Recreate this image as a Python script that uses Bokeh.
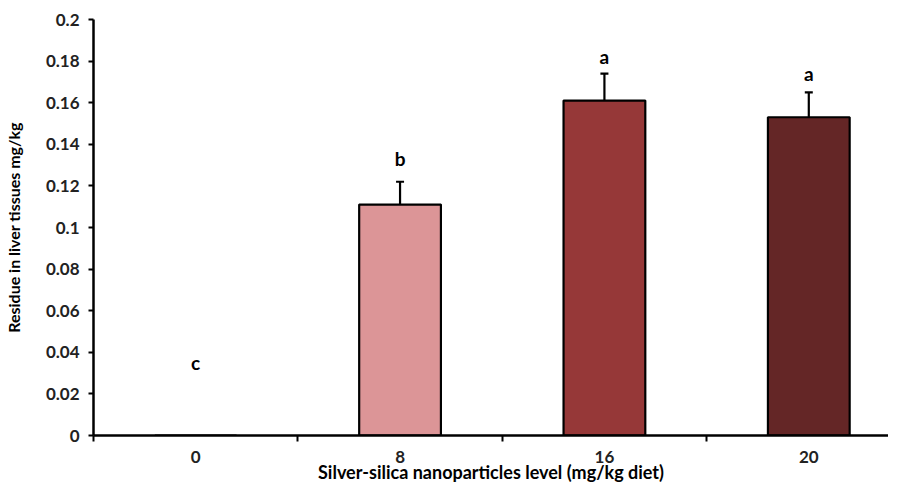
from bokeh.plotting import figure
from bokeh.models import ColumnDataSource, FixedTicker, Whisker, TeeHead, Range1d
from bokeh.core.properties import value
from bokeh.embed import file_html
from bokeh.resources import INLINE

# Data
categories = ["0", "8", "16", "20"]
residue = [0.0, 0.111, 0.161, 0.153]
errors = [0.0, 0.011, 0.013, 0.012]
letters = ["c", "b", "a", "a"]
letter_y = [0.035, 0.133, 0.182, 0.174]
colors = ["#DC9597", "#DC9597", "#963838", "#642626"]
y_ticks = [0, 0.02, 0.04, 0.06, 0.08, 0.1, 0.12, 0.14, 0.16, 0.18, 0.2]

xs = list(range(len(categories)))
FONT = "Lato"

p = figure(width=888, height=485, output_backend="svg", toolbar_location=None,
           x_range=Range1d(-0.5, 3.39), y_range=Range1d(0, 0.2),
           min_border_left=90, min_border_right=0, min_border_top=19, min_border_bottom=40)
p.outline_line_color = None
p.xgrid.visible = False
p.ygrid.visible = False
p.background_fill_color = "white"

bar_src = ColumnDataSource(dict(x=xs, top=residue, color=colors))
p.vbar(x="x", top="top", width=0.4, source=bar_src, fill_color="color",
       line_color="black", line_width=2.2)

wx = [x for x, e in zip(xs, errors) if e > 0]
wlo = [v for v, e in zip(residue, errors) if e > 0]
whi = [v + e for v, e in zip(residue, errors) if e > 0]
w_src = ColumnDataSource(dict(x=wx, lower=wlo, upper=whi))
wh = Whisker(base="x", lower="lower", upper="upper", source=w_src,
             line_color="black", line_width=2.2, lower_head=None,
             upper_head=TeeHead(size=8, line_color="black", line_width=2.2))
p.add_layout(wh)

txt_src = ColumnDataSource(dict(x=xs, y=letter_y, t=letters))
p.text(x="x", y="y", text="t", source=txt_src, text_align="center",
       text_baseline="middle", text_font=value(FONT), text_font_style="bold",
       text_font_size="19px", text_color="black")

# X axis
xa = p.xaxis[0]
xa.ticker = FixedTicker(ticks=xs, minor_ticks=[-0.5, 0.5, 1.5, 2.5])
xa.major_label_overrides = {i: c for i, c in enumerate(categories)}
xa.major_tick_out = 0
xa.major_tick_in = 0
xa.minor_tick_out = 6
xa.minor_tick_in = 0
xa.minor_tick_line_width = 2
xa.minor_tick_line_color = "black"
xa.axis_line_width = 2.5
xa.axis_line_color = "black"
xa.major_label_standoff = 9
xa.major_label_text_font = FONT
xa.major_label_text_font_style = "bold"
xa.major_label_text_font_size = "17px"
xa.major_label_text_color = "#222222"
xa.axis_label = "Silver-silica nanoparticles level (mg/kg diet)"
xa.axis_label_standoff = -5
xa.axis_label_text_font = FONT
xa.axis_label_text_font_style = "bold"
xa.axis_label_text_font_size = "18px"
xa.axis_label_text_color = "black"

# Y axis
ya = p.yaxis[0]
ya.ticker = FixedTicker(ticks=y_ticks, minor_ticks=[])
ya.major_label_overrides = {t: ("0" if t == 0 else ("%g" % t)) for t in y_ticks}
ya.major_tick_out = 5
ya.major_tick_in = 0
ya.major_tick_line_width = 2
ya.minor_tick_out = 0
ya.minor_tick_in = 0
ya.axis_line_width = 2.5
ya.axis_line_color = "black"
ya.major_label_standoff = 9
ya.major_label_text_font = FONT
ya.major_label_text_font_style = "bold"
ya.major_label_text_font_size = "17px"
ya.major_label_text_color = "#222222"
ya.axis_label = "Residue in liver tissues mg/kg"
ya.axis_label_standoff = 20
ya.axis_label_text_font = FONT
ya.axis_label_text_font_style = "bold"
ya.axis_label_text_font_size = "16px"
ya.axis_label_text_color = "black"

open("out.html", "w").write(file_html(p, INLINE))
